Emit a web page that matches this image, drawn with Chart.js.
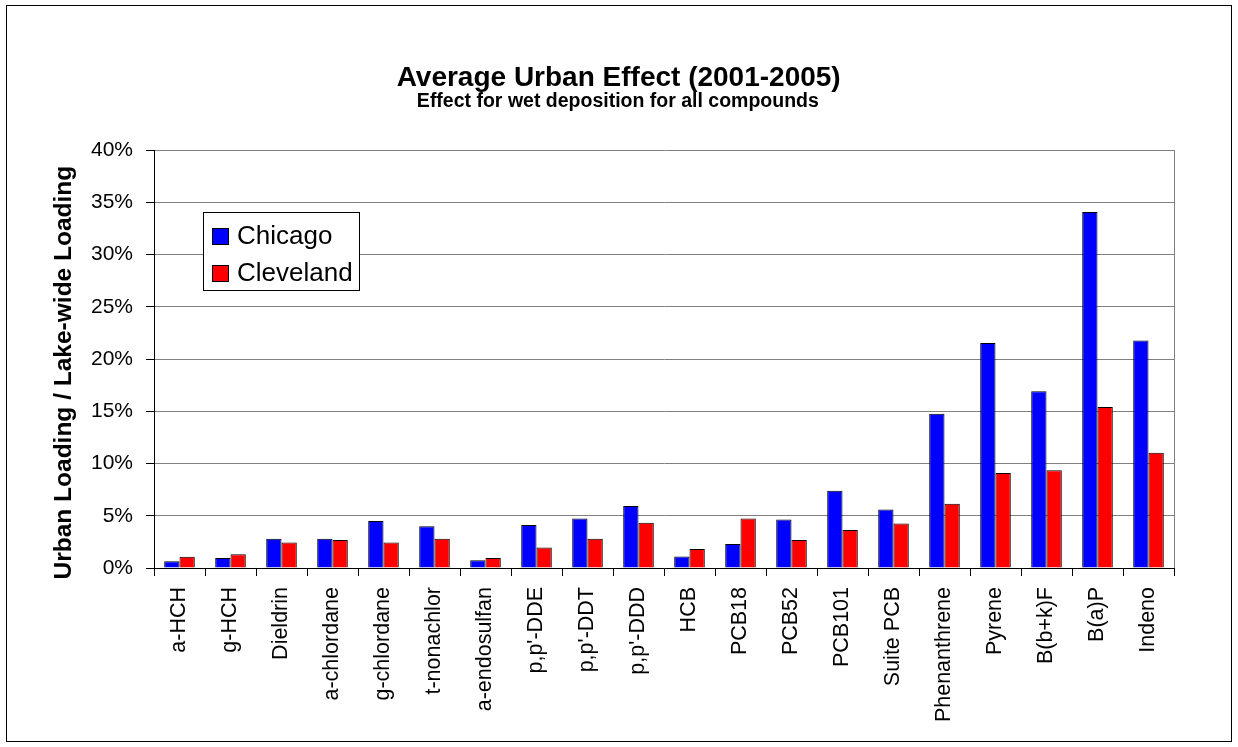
<!DOCTYPE html>
<html>
<head>
<meta charset="utf-8">
<script src="https://cdn.jsdelivr.net/npm/chart.js@4/dist/chart.umd.min.js"></script>
<style>
  body { margin: 0; background: #fff; }
  canvas { display: block; }
</style>
</head>
<body>
<canvas id="chart" width="1238" height="747"></canvas>
<script>
const compounds = ["a-HCH", "g-HCH", "Dieldrin", "a-chlordane", "g-chlordane", "t-nonachlor",
  "a-endosulfan", "p,p'-DDE", "p,p'-DDT", "p,p'-DDD", "HCB", "PCB18", "PCB52", "PCB101",
  "Suite PCB", "Phenanthrene", "Pyrene", "B(b+k)F", "B(a)P", "Indeno"];
const chicago = [0.64, 0.96, 2.81, 2.81, 4.5, 3.99, 0.74, 4.12, 4.73, 5.94, 1.09, 2.3, 4.63, 7.4,
  5.59, 14.77, 21.53, 16.91, 34.07, 21.76];
const cleveland = [1.08, 1.31, 2.43, 2.68, 2.43, 2.81, 0.96, 1.95, 2.81, 4.34, 1.82, 4.73, 2.68, 3.64,
  4.25, 6.16, 9.09, 9.35, 15.41, 11.04];
const yTicks = [0, 5, 10, 15, 20, 25, 30, 35, 40];

const FONT = "'Liberation Sans', Arial, sans-serif";

// frame round the whole picture + right edge of the plot
const framePlugin = {
  id: "frame",
  beforeDraw(chart) {
    const ctx = chart.ctx;
    ctx.save();
    ctx.fillStyle = "#fff";
    ctx.fillRect(0, 0, chart.width, chart.height);
    ctx.strokeStyle = "#000";
    ctx.lineWidth = 1;
    ctx.strokeRect(6.5, 5.5, chart.width - 13, chart.height - 11);
    ctx.restore();
  },
  afterDatasetsDraw(chart) {
    const a = chart.chartArea;
    const ctx = chart.ctx;
    ctx.save();
    ctx.strokeStyle = "#808080";
    ctx.lineWidth = 1;
    ctx.beginPath();
    ctx.moveTo(Math.round(a.right) + 0.5, a.top);
    ctx.lineTo(Math.round(a.right) + 0.5, a.bottom);
    ctx.stroke();
    ctx.restore();
  }
};

// boxed legend sitting inside the plot, like the original
const boxLegend = {
  id: "boxLegend",
  afterDraw(chart) {
    const ctx = chart.ctx;
    const x = 203, y = 212, w = 156, h = 78;
    ctx.save();
    ctx.fillStyle = "#fff";
    ctx.fillRect(x, y, w, h);
    ctx.strokeStyle = "#000";
    ctx.lineWidth = 1;
    ctx.strokeRect(x + 0.5, y + 0.5, w, h);
    ctx.font = "26px " + FONT;
    ctx.textBaseline = "alphabetic";
    chart.data.datasets.forEach((ds, i) => {
      const base = y + 32 + i * 37;
      ctx.fillStyle = ds.backgroundColor;
      ctx.fillRect(212, base - 16, 16, 16);
      ctx.strokeRect(212.5, base - 15.5, 16, 16);
      ctx.fillStyle = "#000";
      ctx.fillText(ds.label, 237, base);
    });
    ctx.restore();
  }
};

new Chart(document.getElementById("chart").getContext("2d"), {
  type: "bar",
  data: {
    labels: compounds,
    datasets: [
      { label: "Chicago", data: chicago, backgroundColor: "#0000ff", borderColor: "#000", borderWidth: 1 },
      { label: "Cleveland", data: cleveland, backgroundColor: "#ff0000", borderColor: "#000", borderWidth: 1 }
    ]
  },
  options: {
    responsive: false,
    animation: false,
    categoryPercentage: 0.6,
    barPercentage: 1.0,
    layout: { padding: { left: 40, right: 64, top: 0, bottom: 6 } },
    plugins: {
      legend: { display: false },
      tooltip: { enabled: false },
      title: {
        display: true,
        // leading spaces move the title to the middle of the whole picture
        text: "   Average Urban Effect (2001-2005)",
        color: "#000",
        font: { family: FONT, size: 28, weight: "bold", lineHeight: 1.0 },
        padding: { top: 64, bottom: 0 }
      },
      subtitle: {
        display: true,
        text: "    Effect for wet deposition for all compounds",
        color: "#000",
        font: { family: FONT, size: 19.5, weight: "bold", lineHeight: 1.0 },
        padding: { top: 0, bottom: 38.5 }
      }
    },
    scales: {
      x: {
        grid: { offset: true, drawOnChartArea: false, tickLength: 8, tickColor: "#000" },
        border: { color: "#000", width: 1 },
        ticks: {
          color: "#000",
          font: { family: FONT, size: 21.5 },
          maxRotation: 90,
          minRotation: 90,
          padding: 11,
          autoSkip: false
        },
        afterFit(scale) { scale.height = 173; }
      },
      y: {
        min: 0,
        max: 40,
        afterBuildTicks(scale) { scale.ticks = yTicks.map(v => ({ value: v })); },
        grid: { color: "#808080", tickLength: 8, tickColor: "#000" },
        border: { color: "#000", width: 1 },
        ticks: {
          color: "#000",
          font: { family: FONT, size: 21 },
          padding: 13,
          callback: v => v + "%"
        },
        title: {
          display: true,
          // trailing spaces nudge the centred title down, as in the original
          text: "Urban Loading / Lake-wide Loading    ",
          color: "#000",
          font: { family: FONT, size: 24.5, weight: "bold" },
          padding: { top: 10, bottom: 0 }
        },
        afterFit(scale) { scale.width = 114; }
      }
    }
  },
  plugins: [framePlugin, boxLegend]
});
</script>
</body>
</html>
